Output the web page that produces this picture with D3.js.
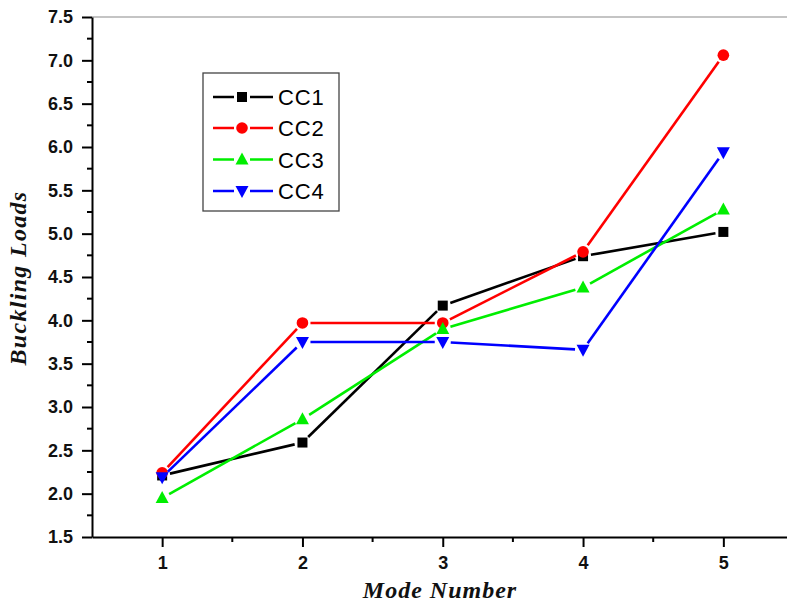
<!DOCTYPE html>
<html><head><meta charset="utf-8">
<script src="https://cdn.jsdelivr.net/npm/d3@7"></script>
<style>body{margin:0;background:#fff}svg{display:block}</style>
</head><body>
<script>
const modes = [1, 2, 3, 4, 5];
const seriesNames = ["CC1", "CC2", "CC3", "CC4"];
const cc1 = [2.21, 2.59, 4.17, 4.74, 5.02];
const cc2 = [2.24, 3.97, 3.97, 4.79, 7.06];
const cc3 = [1.95, 2.86, 3.90, 4.38, 5.28];
const cc4 = [2.19, 3.75, 3.75, 3.66, 5.94];
const yTicks = [1.5, 2.0, 2.5, 3.0, 3.5, 4.0, 4.5, 5.0, 5.5, 6.0, 6.5, 7.0, 7.5];
const xTicks = [1, 2, 3, 4, 5];

const series = [
  {name: seriesNames[0], values: cc1, color: "#000000", sym: "square"},
  {name: seriesNames[1], values: cc2, color: "#ff0000", sym: "circle"},
  {name: seriesNames[2], values: cc3, color: "#00ee00", sym: "up"},
  {name: seriesNames[3], values: cc4, color: "#0000ff", sym: "down"}
];

const W = 787, H = 606;
const L = 92, T = 17, B = 537;
const svg = d3.select("body").append("svg").attr("width", W).attr("height", H);
const x = d3.scaleLinear().domain([0.5, 5.5]).range([L, L + 5 * 140.3]);
const y = d3.scaleLinear().domain([1.5, 7.5]).range([B, T]);

// top frame line
svg.append("line").attr("x1", L).attr("x2", W).attr("y1", T).attr("y2", T)
  .attr("stroke", "#b0b0b0").attr("stroke-width", 1.5);

// y axis
const yAxis = svg.append("g").attr("transform", `translate(${L},0)`)
  .call(d3.axisLeft(y).tickValues(yTicks).tickFormat(d3.format(".1f")).tickSize(10).tickSizeOuter(0).tickPadding(9));
yAxis.select(".domain").attr("stroke-width", 2);
yAxis.selectAll(".tick line").attr("stroke-width", 2);
yAxis.selectAll("text").attr("font-family", "Liberation Sans, Arial, sans-serif")
  .attr("font-weight", "bold").attr("font-size", 18).attr("fill", "#111");
const yMinor = d3.range(1.75, 7.5, 0.5);
svg.append("g").selectAll("line").data(yMinor).join("line")
  .attr("x1", L - 5).attr("x2", L).attr("y1", d => y(d)).attr("y2", d => y(d))
  .attr("stroke", "#000").attr("stroke-width", 2);

// x axis
const xAxis = svg.append("g").attr("transform", `translate(0,${B})`)
  .call(d3.axisBottom(x).tickValues(xTicks).tickFormat(d3.format("d")).tickSize(10).tickSizeOuter(0).tickPadding(9));
xAxis.select(".domain").attr("stroke-width", 2);
xAxis.selectAll(".tick line").attr("stroke-width", 2);
xAxis.selectAll("text").attr("font-family", "Liberation Sans, Arial, sans-serif")
  .attr("font-weight", "bold").attr("font-size", 18).attr("fill", "#111");
const xMinor = d3.range(1.5, 5.5, 1);
svg.append("g").selectAll("line").data(xMinor).join("line")
  .attr("x1", d => x(d)).attr("x2", d => x(d)).attr("y1", B).attr("y2", B + 5)
  .attr("stroke", "#000").attr("stroke-width", 2);

// axis titles
svg.append("text").attr("x", 440).attr("y", 598).attr("text-anchor", "middle")
  .attr("font-family", "Liberation Serif, Times New Roman, serif").attr("font-style", "italic")
  .attr("font-weight", "bold").attr("font-size", 24).attr("letter-spacing", 1).attr("fill", "#111").text("Mode Number");
svg.append("text").attr("transform", "translate(26,278) rotate(-90)").attr("text-anchor", "middle")
  .attr("font-family", "Liberation Serif, Times New Roman, serif").attr("font-style", "italic")
  .attr("font-weight", "bold").attr("font-size", 24).attr("letter-spacing", 1.3).attr("fill", "#111").text("Buckling Loads");

function drawMarker(g, sym, cx, cy, color) {
  if (sym === "square") {
    g.append("rect").attr("x", cx - 5).attr("y", cy - 5).attr("width", 10).attr("height", 10).attr("fill", color);
  } else if (sym === "circle") {
    g.append("circle").attr("cx", cx).attr("cy", cy).attr("r", 5.8).attr("fill", color);
  } else if (sym === "up") {
    g.append("path").attr("d", `M${cx},${cy - 7}L${cx + 6.5},${cy + 5}L${cx - 6.5},${cy + 5}Z`).attr("fill", color);
  } else {
    g.append("path").attr("d", `M${cx},${cy + 7}L${cx + 6.5},${cy - 5}L${cx - 6.5},${cy - 5}Z`).attr("fill", color);
  }
}

const gap = 8;
series.forEach(s => {
  const g = svg.append("g");
  const pts = s.values.map((v, i) => [x(modes[i]), y(v)]);
  for (let i = 0; i < pts.length - 1; i++) {
    const [x1, y1] = pts[i], [x2, y2] = pts[i + 1];
    const dx = x2 - x1, dy = y2 - y1, len = Math.hypot(dx, dy);
    const ux = dx / len, uy = dy / len;
    g.append("line").attr("x1", x1 + ux * gap).attr("y1", y1 + uy * gap)
      .attr("x2", x2 - ux * gap).attr("y2", y2 - uy * gap)
      .attr("stroke", s.color).attr("stroke-width", 2.6);
  }
  pts.forEach(p => drawMarker(g, s.sym, p[0], p[1], s.color));
});

// legend
const lg = svg.append("g");
lg.append("rect").attr("x", 203).attr("y", 73).attr("width", 136).attr("height", 138)
  .attr("fill", "#fff").attr("stroke", "#444").attr("stroke-width", 1.3);
const rowY = [97, 128, 159.5, 191];
series.forEach((s, i) => {
  const cy = rowY[i];
  lg.append("line").attr("x1", 213).attr("x2", 234).attr("y1", cy).attr("y2", cy).attr("stroke", s.color).attr("stroke-width", 2.5);
  lg.append("line").attr("x1", 250).attr("x2", 273).attr("y1", cy).attr("y2", cy).attr("stroke", s.color).attr("stroke-width", 2.5);
  drawMarker(lg, s.sym, 242, cy, s.color);
  lg.append("text").attr("x", 278).attr("y", cy + 8).attr("font-family", "Liberation Sans, Arial, sans-serif")
    .attr("font-size", 22).attr("letter-spacing", 0.8).attr("fill", "#000").text(s.name);
});
</script>
</body></html>
